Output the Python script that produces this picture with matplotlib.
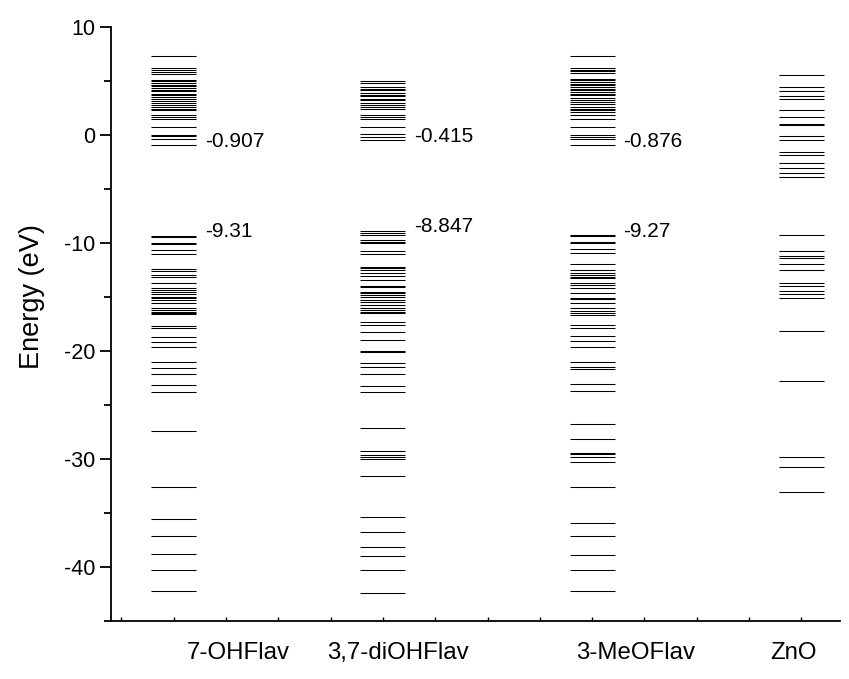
import matplotlib as mpl
mpl.use('Agg')
import matplotlib.pyplot as plt
import numpy as np

plt.rcParams['font.family'] = ['Liberation Sans', 'DejaVu Sans']
plt.rcParams['axes.unicode_minus'] = False

# energy levels (eV)
ohflav = [7.31, 6.25, 6.08, 5.86, 5.70, 5.15, 5.0, 4.85, 4.69, 4.54, 4.38, 4.23,
          4.05, 3.86, 3.70, 3.55, 3.39, 3.18, 3.02, 2.84, 2.62, 2.47, 2.31, 1.85,
          1.70, 1.50, 0.77, 0.06, -0.09, -0.31, -0.907,
          -9.31, -9.48, -9.97, -10.12, -10.65, -11.02, -12.44, -12.59, -12.96,
          -13.12, -13.67, -14.20, -14.35, -14.51, -14.72, -14.97, -15.12, -15.28,
          -15.52, -16.05, -16.20, -16.36, -16.51, -16.6, -17.69, -17.90, -18.67,
          -19.20, -19.66, -20.99, -21.54, -22.13, -23.15, -23.82,
          -27.38, -32.62, -35.58, -37.19, -38.80, -40.31, -42.28]
diohflav = [4.98, 4.85, 4.47, 4.32, 4.17, 3.95, 3.77, 3.61, 3.40, 3.24, 3.03,
            2.84, 2.62, 2.41, 1.90, 1.70, 1.47, 0.80, 0.10, -0.15, -0.415,
            -8.847, -9.04, -9.26, -9.72, -9.88, -9.97, -10.71, -11.05, -12.19,
            -12.35, -12.50, -12.75, -13.06, -13.43, -13.98, -14.04, -14.51,
            -14.66, -14.81, -15.03, -15.28, -15.43, -15.74, -16.05, -16.20,
            -16.36, -16.51, -17.28, -17.59, -18.27, -18.98, -19.97, -20.12,
            -21.08, -21.51, -22.16, -23.21, -23.77,
            -27.10, -29.26, -29.6, -29.8, -30.0, -31.56, -35.43, -36.79, -38.12,
            -38.98, -40.34, -42.44]
meoflav = [7.31, 6.27, 6.08, 5.93, 5.77, 5.25, 5.09, 4.94, 4.78, 4.63, 4.47,
           4.32, 4.17, 4.01, 3.86, 3.70, 3.46, 3.24, 3.09, 2.93, 2.62, 2.47,
           2.31, 2.16, 1.85, 1.54, 0.77, 0.06, -0.15, -0.31, -0.876,
           -9.27, -9.35, -9.88, -10.03, -10.59, -10.96, -11.98, -12.50, -12.75,
           -12.96, -13.12, -13.27, -13.73, -13.89, -14.20, -14.60, -15.06,
           -15.22, -15.52, -16.05, -16.27, -16.51, -16.67, -17.59, -17.90,
           -18.58, -19.07, -19.66, -20.99, -21.45, -21.70, -23.09, -23.67,
           -26.79, -28.18, -29.41, -29.57, -29.78, -30.31, -32.56, -35.90,
           -37.13, -38.89, -40.31, -42.22]
zno = [5.62, 4.47, 4.07, 3.61, 3.40, 2.38, 1.64, 1.08, 0.99, -0.09, -0.40,
       -1.54, -1.85, -2.55, -3.05, -3.55, -3.85,
       -9.26, -10.71, -11.20, -11.42, -11.94, -12.5, -13.68, -13.95, -14.42,
       -14.72, -15.12, -18.12, -22.78, -29.78, -30.71, -33.03]

names = ['7-OHFlav', '3,7-diOHFlav', '3-MeOFlav', 'ZnO']
columns = [ohflav, diohflav, meoflav, zno]
centers = [2, 6, 10, 14]
lumo = [-0.907, -0.415, -0.876]
homo = [-9.31, -8.847, -9.27]
lumo_txt = ['-0.907', '-0.415', '-0.876']
homo_txt = ['-9.31', '-8.847', '-9.27']

fig = plt.figure(figsize=(8.49, 6.79), dpi=100)
ax = fig.add_axes([0.1307, 0.0858, 0.8587, 0.874])

hw = 0.43
for c, lev in zip(centers, columns):
    ax.hlines(lev, c - hw, c + hw, colors='black', linewidth=0.75)

for i in range(3):
    ax.text(centers[i] + hw + 0.17, lumo[i] + 0.3, lumo_txt[i], fontsize=15,
            va='center', ha='left')
    ax.text(centers[i] + hw + 0.17, homo[i] + 0.35, homo_txt[i], fontsize=15,
            va='center', ha='left')

label_x = [3.23, 6.29, 10.84, 13.85]
for x, n in zip(label_x, names):
    ax.text(x, -48.0, n, fontsize=17.3, ha='center', va='center')

ax.set_xlim(0.8, 14.74)
ax.set_ylim(-45, 10)
ax.set_xticks(np.arange(1, 15))
ax.set_xticklabels([])
ax.tick_params(axis='x', direction='in', length=3, width=1)
ax.set_yticks([10, 0, -10, -20, -30, -40])
ax.set_yticks(np.arange(-45, 10, 5), minor=True)
ax.tick_params(axis='y', which='major', direction='out', length=8, width=1.3,
               labelsize=15.5, pad=3)
ax.tick_params(axis='y', which='minor', direction='out', length=5, width=1.3)
ax.spines['top'].set_visible(False)
ax.spines['right'].set_visible(False)
ax.spines['left'].set_linewidth(1.3)
ax.spines['bottom'].set_linewidth(1.3)
ax.set_ylabel('Energy (eV)', fontsize=19.5)
ax.yaxis.set_label_coords(-0.09, 0.547)

plt.savefig('out.png', dpi=100)
